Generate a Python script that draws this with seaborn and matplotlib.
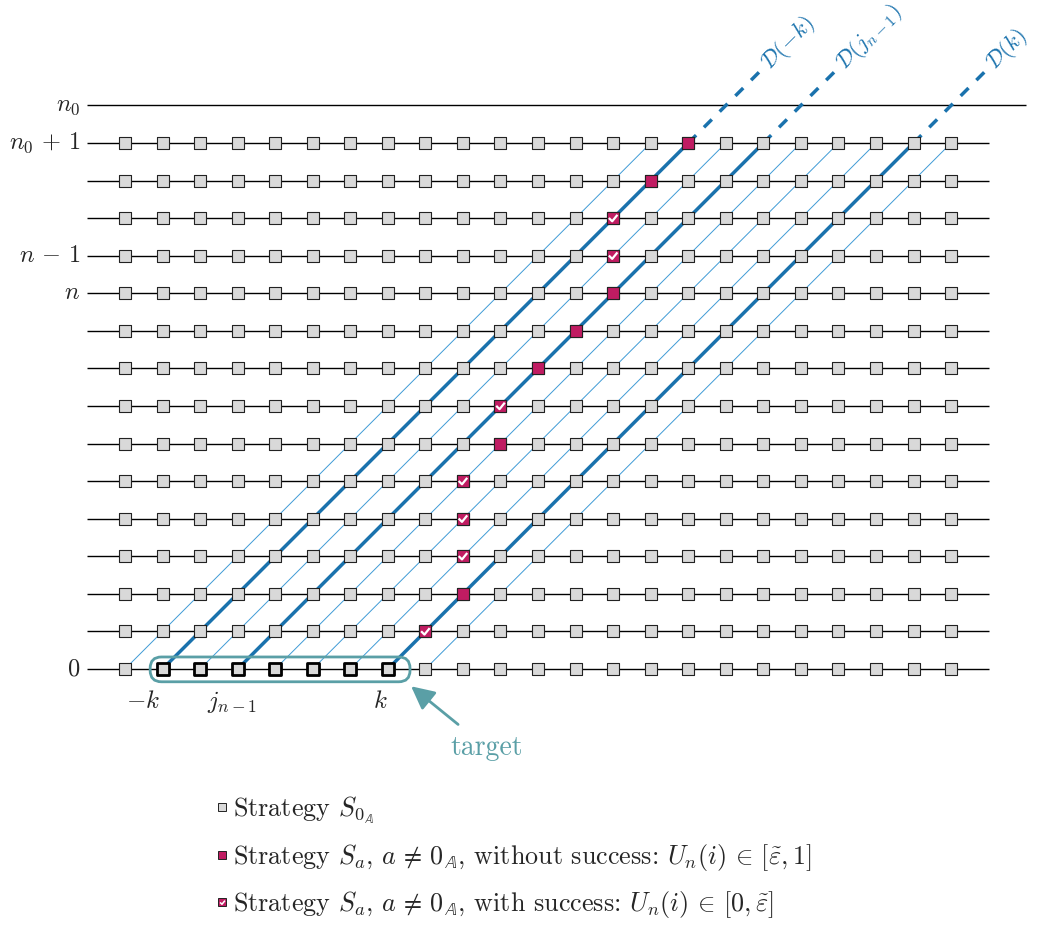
import numpy as np
import pandas as pd
import matplotlib.pyplot as plt
import seaborn as sns
from matplotlib.lines import Line2D
from matplotlib.path import Path
from matplotlib.patches import FancyBboxPatch
from matplotlib.legend_handler import HandlerTuple

sns.set_style('white')
plt.rcParams['font.family'] = 'serif'
plt.rcParams['font.serif'] = ['cmr10']
plt.rcParams['mathtext.fontset'] = 'cm'
plt.rcParams['axes.unicode_minus'] = False

# grid of players: columns i and time steps (rows)
n_cols = 23
n_rows = 15
top_row = 15  # the n_0 line

# strategy S_a without success (row, column)
fail_rows = [2, 6, 8, 9, 10, 13, 14]
fail_cols = [9, 10, 11, 12, 13, 14, 15]
# strategy S_a with success
ok_rows = [1, 3, 4, 5, 7, 11, 12]
ok_cols = [8, 9, 9, 9, 10, 13, 13]
# target squares on row 0
target_cols = [1, 2, 3, 4, 5, 6, 7]

# diagonals D(.) start columns on row 0
thick_starts = [1, 3, 7]
thick_labels = [r'$\mathcal{D}(-k)$', r'$\mathcal{D}(j_{n-1})$', r'$\mathcal{D}(k)$']
thin_starts = [0, 2, 4, 5, 6, 8]

row_ticks = [15, 14, 11, 10, 0]
row_labels = [r'$n_0$', r'$n_0\,+\,1$', r'$n\,-\,1$', r'$n$', r'$0$']
bottom_ticks = [0.48, 2.85, 6.8]
bottom_labels = [r'$-k$', r'$j_{n-1}$', r'$k$']

legend_labels = [
    r'Strategy $S_{0_{\mathbb{A}}}$',
    r'Strategy $S_a$, $a\,\neq\,0_{\mathbb{A}}$, without success: $U_n(i)\,\in\,[\tilde{\varepsilon}, 1]$',
    r'Strategy $S_a$, $a\,\neq\,0_{\mathbb{A}}$, with success: $U_n(i)\,\in\,[0, \tilde{\varepsilon}]$',
]

gray = '#d9d9d9'
edge = '#222222'
magenta = '#c01c62'
blue = '#1a72ad'
light_blue = '#3f9bd6'
teal = '#5a9fa6'

check = Path([(-0.45, 0.02), (-0.1, -0.33), (0.45, 0.35)],
             [Path.MOVETO, Path.LINETO, Path.LINETO])

fig = plt.figure(figsize=(10.37, 9.25), dpi=100)
ax = fig.add_axes([0, 0, 1, 1])
ax.set_xlim(-3.329, 24.288)
ax.set_ylim(-6.814, 17.807)
ax.axis('off')

# horizontal time lines
ax.hlines(range(n_rows), -1, n_cols, color='black', lw=1.0, zorder=1)
ax.hlines(top_row, -1, n_cols + 1, color='black', lw=1.0, zorder=1)

# diagonals
for c in thin_starts:
    ax.plot([c, c + n_rows - 1], [0, n_rows - 1], color=light_blue, lw=0.7, zorder=2)
for c, lab in zip(thick_starts, thick_labels):
    ax.plot([c, c + n_rows - 1], [0, n_rows - 1], color=blue, lw=2.5, zorder=3,
            solid_capstyle='butt')
    ax.plot([c + n_rows - 1, c + 15.9], [n_rows - 1, 15.9], color=blue, lw=2.5,
            ls=(0, (3.2, 3.2)), zorder=3)
    ax.text(c + 16.05, 16.05, lab, rotation=45, rotation_mode='anchor',
            ha='left', va='center', color=blue, fontsize=16.5)

# squares
grid = pd.DataFrame([(c, r) for r in range(n_rows) for c in range(n_cols)],
                    columns=['col', 'row'])
sns.scatterplot(data=grid, x='col', y='row', marker='s', s=78, color=gray,
                edgecolor=edge, linewidth=0.8, ax=ax, zorder=4, legend=False)
target = pd.DataFrame({'col': target_cols, 'row': 0})
sns.scatterplot(data=target, x='col', y='row', marker='s', s=70, color=gray,
                edgecolor='black', linewidth=2.0, ax=ax, zorder=5, legend=False)
fails = pd.DataFrame({'col': fail_cols + ok_cols, 'row': fail_rows + ok_rows})
sns.scatterplot(data=fails, x='col', y='row', marker='s', s=78, color=magenta,
                edgecolor=edge, linewidth=0.8, ax=ax, zorder=5, legend=False)
ax.scatter(ok_cols, ok_rows, marker=check, s=38, facecolors='none',
           edgecolors='white', linewidths=1.6, zorder=6)

# labels
for r, lab in zip(row_ticks, row_labels):
    ax.text(-1.2, r, lab, ha='right', va='center', fontsize=17.5)
for c, lab in zip(bottom_ticks, bottom_labels):
    ax.text(c, -0.88, lab, ha='center', va='center', fontsize=18)

# target box and arrow
ax.add_patch(FancyBboxPatch((0.67, -0.34), 6.92, 0.66,
                            boxstyle='round,pad=0,rounding_size=0.3',
                            fc='none', ec=teal, lw=2.0, zorder=6))
ax.annotate('target', xy=(7.62, -0.46), xytext=(9.64, -2.1), ha='center', va='center',
            color=teal, fontsize=20,
            arrowprops=dict(arrowstyle='-|>,head_length=0.7,head_width=0.35',
                            color=teal, lw=2.0, shrinkA=8, shrinkB=0))

# legend
h_gray = Line2D([], [], ls='none', marker='s', ms=6, mfc=gray, mec=edge, mew=0.7)
h_fail = Line2D([], [], ls='none', marker='s', ms=6, mfc=magenta, mec=edge, mew=0.7)
h_check = Line2D([], [], ls='none', marker=check, ms=3.5, mfc='none', mec='white', mew=1.1)
ax.legend(handles=[h_gray, h_fail, (h_fail, h_check)], labels=legend_labels,
          handler_map={tuple: HandlerTuple(ndivide=1, pad=0)},
          loc='upper left', bbox_to_anchor=(0.2073, 0.1415), frameon=False,
          fontsize=18.8, handlelength=0.55, handletextpad=0.15, labelspacing=0.62,
          borderpad=0, borderaxespad=0)

fig.savefig('out.png', dpi=100)
